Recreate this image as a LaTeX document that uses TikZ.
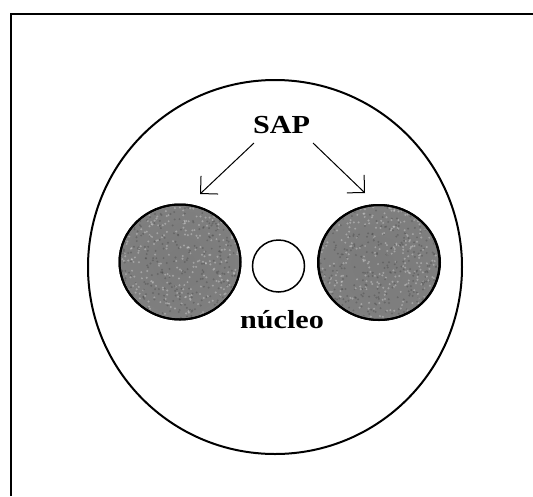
\documentclass[tikz,border=0pt]{standalone}
\usepackage{fontspec}
\setmainfont{Liberation Serif}
\usetikzlibrary{arrows.meta,shapes.geometric}

% flat grey body that lightens towards the rim
\pgfdeclareradialshading{sapgrey}{\pgfpoint{0bp}{0bp}}{%
  color(0bp)=(black!52); color(28bp)=(black!50); color(44bp)=(black!40); color(50bp)=(black!30)}

\tikzset{
  lbl/.style={font=\bfseries\fontsize{26}{28}\selectfont, inner sep=0pt},
  outline/.style={draw=black, line width=2pt, inner sep=0pt},
  sapbody/.style={outline, ellipse, shading=sapgrey},
  pointer/.style={line width=1pt, -{Straight Barb[length=12.5pt,width=25pt,line width=1pt]}},
}

\newcommand{\widetext}[1]{\scalebox{1.16}[1]{#1}}

\begin{document}
\begin{tikzpicture}[x=1pt,y=-1pt]
  \useasboundingbox (0,0) rectangle (533,496);
  \fill[white] (0,0) rectangle (533,496);

  % frame
  \draw[line width=2pt] (11,496) -- (11,14) -- (533,14);

  % cell outline
  \node[outline, circle, minimum size=374pt] (cell) at (275,267) {};

  % the two SAP bodies
  \node[sapbody, minimum width=121pt, minimum height=115pt] (sapleft) at (180,262) {};
  \node[sapbody, minimum width=122pt, minimum height=115pt] (sapright) at (379,262.5) {};

  % grain on the bodies
  \pgfmathsetseed{12}
  \foreach \body in {sapleft,sapright}{
    \begin{scope}
      \clip (\body.center) ellipse [x radius=59pt, y radius=56pt];
      \foreach \k in {1,...,700}{
        \pgfmathsetmacro{\dx}{rnd*124-62}
        \pgfmathsetmacro{\dy}{rnd*118-59}
        \pgfmathsetmacro{\sh}{rnd<0.5 ? 12 : 72}
        \fill[black!\sh, opacity=0.4] ([xshift=\dx pt, yshift=\dy pt]\body.center) circle (1.1pt);
      }
    \end{scope}
    \draw[line width=2pt] (\body.center) ellipse [x radius=60.5pt, y radius=57.5pt];
  }

  % nucleus
  \node[draw, line width=1.5pt, circle, minimum size=52pt, inner sep=0pt] (nucleus) at (278.5,266) {};

  % labels
  \node[lbl] (sap) at (281.5,125.5) {\widetext{SAP}};
  \node[lbl, anchor=base] (nuclabel) at (282,328) {\widetext{núcleo}};

  % pointers from the label to the bodies
  \coordinate (sapLs) at (254,143);
  \coordinate (sapLe) at (200,194);
  \coordinate (sapRs) at (313,143);
  \coordinate (sapRe) at (365,193);
  \draw[pointer] (sapLs) -- (sapLe);
  \draw[pointer] (sapRs) -- (sapRe);
\end{tikzpicture}
\end{document}
